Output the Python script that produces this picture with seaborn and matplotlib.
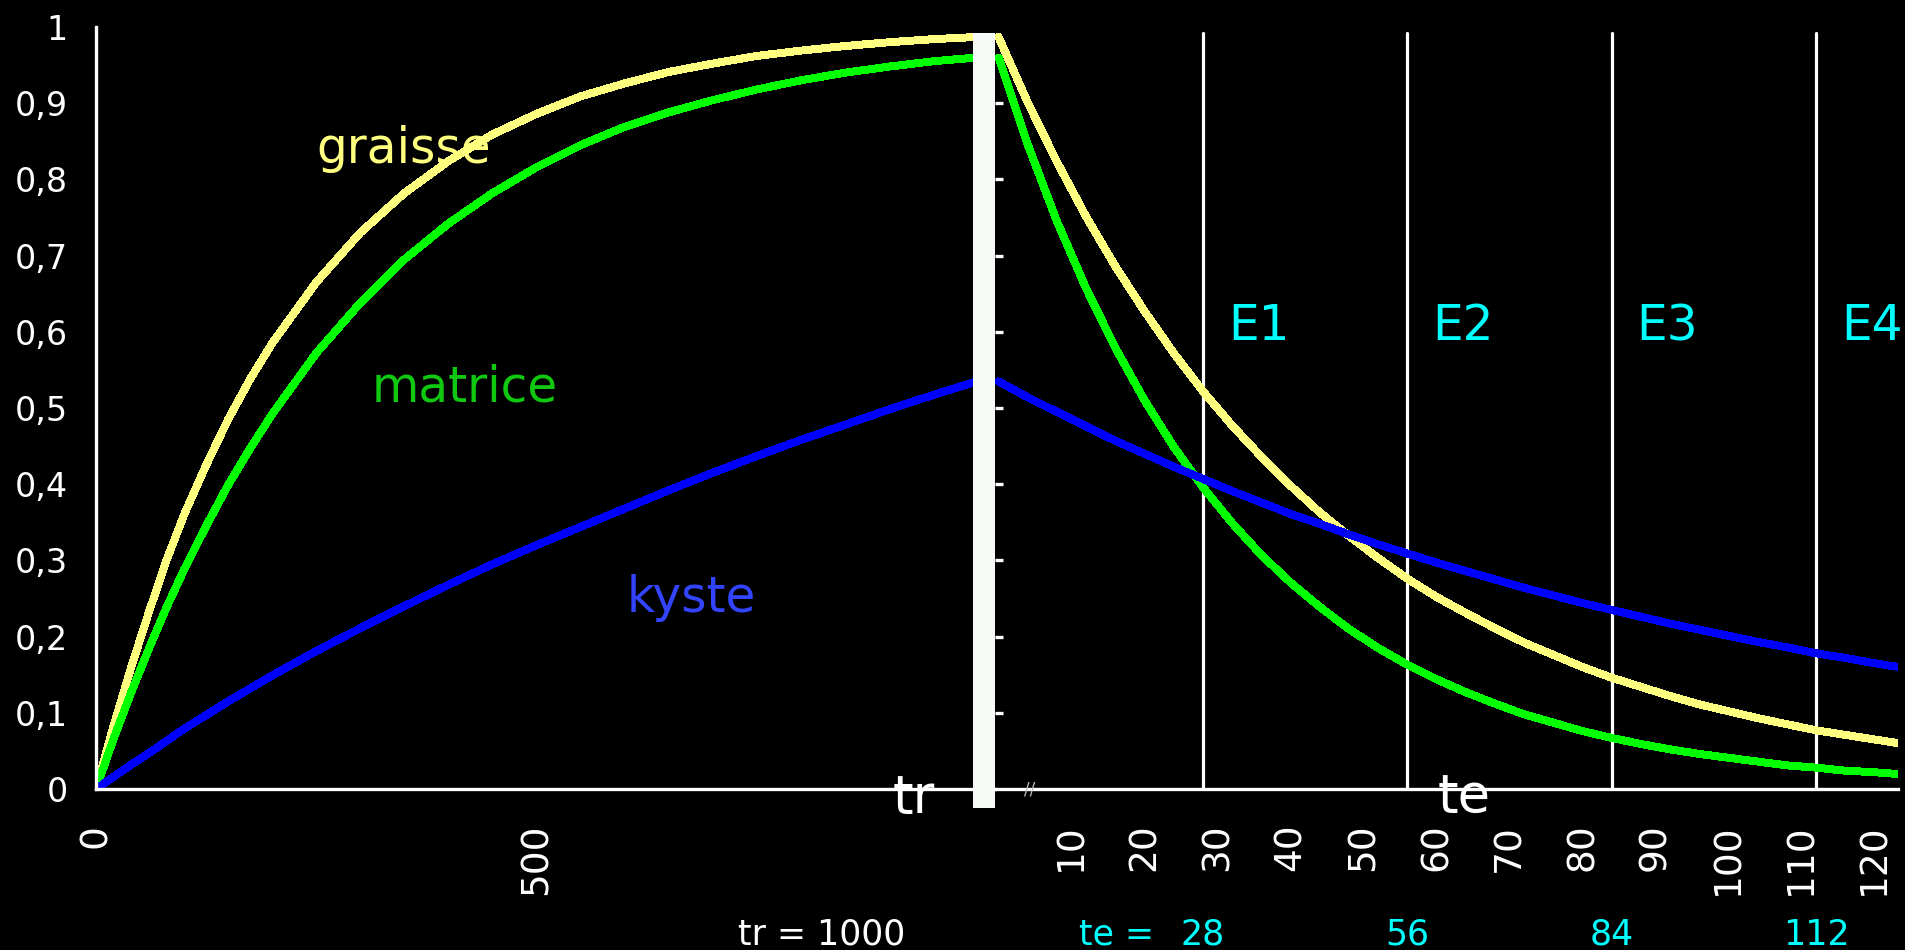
import pandas as pd
import matplotlib.pyplot as plt
import seaborn as sns

# --- Data ---
tr_ms = [0, 20, 40, 60, 80, 100, 125, 150, 175, 200, 250, 300, 350, 400, 450,
         500, 550, 600, 650, 700, 750, 800, 850, 900, 950, 1000]
graisse_tr = [0.0, 0.083, 0.160, 0.232, 0.300, 0.360, 0.425, 0.485, 0.538, 0.585,
              0.665, 0.730, 0.782, 0.824, 0.859, 0.886, 0.909, 0.926, 0.941, 0.952,
              0.962, 0.969, 0.975, 0.980, 0.984, 0.987]
matrice_tr = [0.0, 0.066, 0.127, 0.184, 0.238, 0.288, 0.345, 0.399, 0.447, 0.492,
              0.572, 0.638, 0.695, 0.742, 0.782, 0.816, 0.845, 0.869, 0.888, 0.904,
              0.918, 0.930, 0.940, 0.948, 0.955, 0.960]
kyste_tr = [0.0, 0.016, 0.032, 0.047, 0.063, 0.079, 0.097, 0.115, 0.132, 0.149,
            0.181, 0.211, 0.240, 0.268, 0.295, 0.320, 0.344, 0.368, 0.392, 0.415,
            0.437, 0.458, 0.478, 0.498, 0.517, 0.535]

te_ms = [0, 4, 8, 12, 16, 20, 24, 28, 32, 36, 40, 44, 48, 52, 56, 60, 64, 68,
         72, 76, 80, 84, 88, 92, 96, 100, 104, 108, 112, 116, 120, 124]
graisse_te = [0.987, 0.901, 0.823, 0.751, 0.686, 0.627, 0.572, 0.522, 0.477, 0.436,
              0.398, 0.363, 0.332, 0.303, 0.276, 0.252, 0.231, 0.211, 0.192, 0.176,
              0.160, 0.146, 0.134, 0.122, 0.111, 0.102, 0.093, 0.085, 0.077, 0.071,
              0.065, 0.059]
matrice_te = [0.960, 0.846, 0.745, 0.657, 0.579, 0.510, 0.449, 0.396, 0.349, 0.307,
              0.271, 0.239, 0.210, 0.185, 0.163, 0.144, 0.127, 0.112, 0.098, 0.087,
              0.076, 0.067, 0.059, 0.052, 0.046, 0.041, 0.036, 0.031, 0.028, 0.024,
              0.022, 0.019]
kyste_te = [0.535, 0.514, 0.495, 0.476, 0.457, 0.440, 0.423, 0.407, 0.391, 0.376,
            0.361, 0.348, 0.334, 0.321, 0.309, 0.297, 0.286, 0.275, 0.264, 0.254,
            0.244, 0.235, 0.226, 0.217, 0.209, 0.201, 0.193, 0.186, 0.178, 0.172,
            0.165, 0.159]

tissues = ['graisse', 'matrice', 'kyste']
colors = {'graisse': '#FFFF80', 'matrice': '#00FF00', 'kyste': '#0000FF'}
text_colors = {'graisse': '#FFFF80', 'matrice': '#10C810', 'kyste': '#3344FF'}

y_ticks = [0, 0.1, 0.2, 0.3, 0.4, 0.5, 0.6, 0.7, 0.8, 0.9, 1]
y_tick_labels = ['0', '0,1', '0,2', '0,3', '0,4', '0,5', '0,6', '0,7', '0,8', '0,9', '1']
tr_ticks = [0, 500]
te_ticks = [10, 20, 30, 40, 50, 60, 70, 80, 90, 100, 110, 120]

echo_times = [28, 56, 84, 112]
echo_labels = ['E1', 'E2', 'E3', 'E4']
tr_value = 1000

# long tables for seaborn
df_tr = pd.concat([
    pd.DataFrame({'tr': tr_ms, 'signal': vals, 'tissu': name})
    for name, vals in zip(tissues, [graisse_tr, matrice_tr, kyste_tr])
])
df_te = pd.concat([
    pd.DataFrame({'te': te_ms, 'signal': vals, 'tissu': name})
    for name, vals in zip(tissues, [graisse_te, matrice_te, kyste_te])
])

# --- Style ---
sns.set_theme(style='dark')
plt.rcParams['font.family'] = ['DejaVu Sans']
plt.rcParams['axes.facecolor'] = 'black'
plt.rcParams['figure.facecolor'] = 'black'

W, H = 1905, 950
fig = plt.figure(figsize=(W / 100, H / 100), dpi=100)
ax_l = fig.add_axes([96 / W, (H - 789) / H, (995 - 96) / W, (789 - 27) / H])
ax_r = fig.add_axes([995 / W, (H - 789) / H, (1898 - 995) / W, (789 - 27) / H])

for ax in (ax_l, ax_r):
    ax.set_facecolor('none')
    ax.grid(False)
    for s in ax.spines.values():
        s.set_visible(False)
    ax.spines['bottom'].set_visible(True)
    ax.spines['bottom'].set_color('white')
    ax.spines['bottom'].set_linewidth(2.4)
ax_l.spines['left'].set_visible(True)
ax_l.spines['left'].set_color('white')
ax_l.spines['left'].set_linewidth(2.4)

# --- Curves ---
sns.lineplot(data=df_tr, x='tr', y='signal', hue='tissu', hue_order=tissues,
             palette=colors, legend=False, ax=ax_l, lw=5, antialiased=False,
             estimator=None, sort=False)
sns.lineplot(data=df_te, x='te', y='signal', hue='tissu', hue_order=tissues,
             palette=colors, legend=False, ax=ax_r, lw=5, antialiased=False,
             estimator=None, sort=False)

ax_l.set_xlim(0, 1020.4)
ax_r.set_xlim(-0.48, 123.2)
for ax in (ax_l, ax_r):
    ax.set_ylim(0, 1)
    ax.set_xlabel('')
    ax.set_ylabel('')

# white separator bar at tr
ax_l.axvspan(995.5, 1020.4, ymin=-0.025, ymax=0.992, color='#F7FBF7',
             clip_on=False, zorder=5, lw=0)

# echo time lines
for te in echo_times:
    ax_r.axvline(te, ymin=0, ymax=0.992, color='white', lw=2.3, zorder=1)

# --- Ticks ---
ax_l.set_yticks(y_ticks)
ax_l.set_yticklabels(y_tick_labels, fontsize=24)
ax_l.tick_params(axis='y', direction='inout', length=14.4, width=2.4,
                 colors='white', pad=13)
ax_l.set_xticks(tr_ticks)
ax_l.set_xticklabels([str(t) for t in tr_ticks], rotation=90, fontsize=27)
ax_l.tick_params(axis='x', direction='inout', length=20, width=2.4,
                 colors='white', pad=15)

ax_r.set_xticks(te_ticks)
ax_r.set_xticklabels([str(t) for t in te_ticks], rotation=90, fontsize=27)
ax_r.tick_params(axis='x', direction='inout', length=20, width=2.4,
                 colors='white', pad=15)
ax_r.set_yticks(y_ticks[1:-1])
ax_r.tick_params(axis='y', direction='in', length=6, width=2.4, colors='white',
                 labelleft=False, left=True)

# --- Texts ---
ax_l.text(250, 0.8215, 'graisse', color=text_colors['graisse'], fontsize=35,
          ha='left', va='baseline')
ax_l.text(313, 0.508, 'matrice', color=text_colors['matrice'], fontsize=35,
          ha='left', va='baseline')
ax_l.text(602, 0.232, 'kyste', color=text_colors['kyste'], fontsize=35,
          ha='left', va='baseline')

for te, lab in zip(echo_times, echo_labels):
    ax_r.text(te + 3.4, 0.589, lab, color='#00FFFF', fontsize=35,
              ha='left', va='baseline')

xt_l = ax_l.get_xaxis_transform()
xt_r = ax_r.get_xaxis_transform()
ax_l.text(928, -0.012, 'tr', color='white', fontsize=38, ha='center',
          va='center', transform=xt_l, zorder=6)
ax_r.text(63.8, -0.012, 'te', color='white', fontsize=38, ha='center',
          va='center', transform=xt_r, zorder=6)
ax_r.text(4.3, 0.0, '//', color='#bbbbbb', fontsize=12, ha='center',
          va='center', transform=xt_r)

ax_l.text(824, -0.2047, f'tr = {tr_value}', color='white', fontsize=25,
          ha='center', va='baseline', transform=xt_l)
ax_r.text(16.2, -0.2047, 'te =', color='#00FFFF', fontsize=25,
          ha='center', va='baseline', transform=xt_r)
for te in echo_times:
    ax_r.text(te, -0.2047, str(te), color='#00FFFF', fontsize=25,
              ha='center', va='baseline', transform=xt_r)

fig.savefig('out.png', dpi=100, facecolor='black')
